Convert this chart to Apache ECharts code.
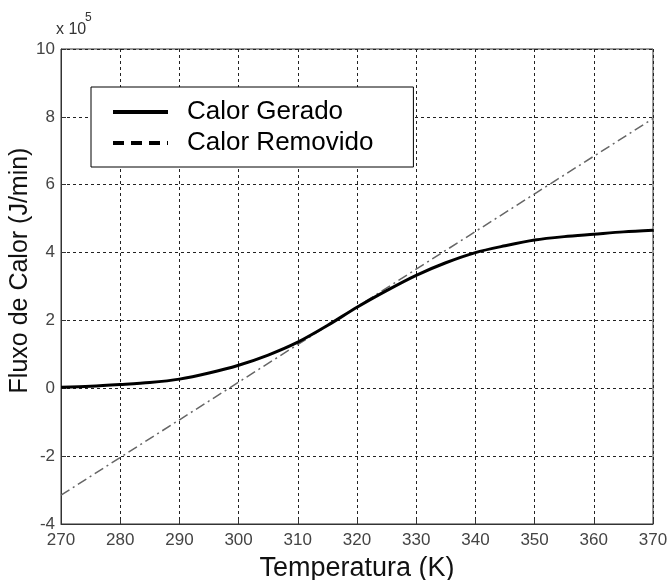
<!DOCTYPE html>
<html>
<head>
<meta charset="utf-8">
<script src="https://cdn.jsdelivr.net/npm/echarts@6/dist/echarts.min.js"></script>
<style>html,body{margin:0;padding:0;background:#fff;}#c{width:667px;height:580px;}</style>
</head>
<body>
<div id="c"></div>
<script>
var temps = [270,275,280,285,290,295,300,305,310,315,320,325,330,335,340,345,350,355,360,365,370];
var calorGerado = [0.03,0.06,0.11,0.17,0.27,0.45,0.68,0.98,1.36,1.85,2.39,2.88,3.33,3.70,4.00,4.20,4.37,4.47,4.54,4.61,4.66];
var removidoT = [270,370];
var calorRemovido = [-3.15,7.95];
var seriesNames = ['Calor Gerado','Calor Removido'];
var xTitle = 'Temperatura (K)';
var yTitle = 'Fluxo de Calor (J/min)';

function pairs(xs, ys){ return xs.map(function(x,i){ return [x, ys[i]]; }); }

var font = 'Liberation Sans, Arial, sans-serif';
var chart = echarts.init(document.getElementById('c'), null, {renderer:'canvas'});
chart.setOption({
  animation:false,
  backgroundColor:'#fff',
  grid:{left:61,right:14,top:49,bottom:56,show:true,borderColor:'#333',borderWidth:1,backgroundColor:'transparent',
    containLabel:false,outerBoundsMode:'none'},
  xAxis:{type:'value',min:270,max:370,interval:10,
    name:xTitle,nameLocation:'middle',nameGap:31,
    nameTextStyle:{fontFamily:font,fontSize:27,color:'#111'},
    axisLine:{onZero:false,lineStyle:{color:'#333',width:1}},
    axisTick:{inside:true,length:5,lineStyle:{color:'#333'}},
    axisLabel:{fontFamily:font,fontSize:17,color:'#444',margin:8},
    splitLine:{show:true,lineStyle:{color:'#222',width:1,type:[3,3]}}
  },
  yAxis:{type:'value',min:-4,max:10,interval:2,
    name:yTitle,nameLocation:'middle',nameGap:28,nameMoveOverlap:false,
    nameTextStyle:{fontFamily:font,fontSize:25,color:'#111',padding:[0,0,0,32]},
    axisLine:{show:true,onZero:false,lineStyle:{color:'#333',width:1}},
    axisTick:{show:true,inside:true,length:5,lineStyle:{color:'#333'}},
    axisLabel:{fontFamily:font,fontSize:17,color:'#444',margin:6},
    splitLine:{show:true,lineStyle:{color:'#222',width:1,type:[3,3]}}
  },
  legend:{
    orient:'vertical',left:91,top:87,
    padding:[12,40,11,20],itemGap:5,itemWidth:55,itemHeight:14,
    borderColor:'#000',borderWidth:1,backgroundColor:'#fff',
    textStyle:{fontFamily:font,fontSize:26,color:'#000',padding:[0,0,0,14]},
    data:[
      {name:seriesNames[0],itemStyle:{opacity:0},lineStyle:{color:'#000',width:4,type:'solid'}},
      {name:seriesNames[1],itemStyle:{opacity:0},lineStyle:{color:'#000',width:4,type:[11,7]}}
    ]
  },
  graphic:[
    {type:'text',left:56,top:22,style:{text:'x 10',fontFamily:font,fontSize:16,fill:'#333'}},
    {type:'text',left:85,top:12,style:{text:'5',fontFamily:font,fontSize:12,fill:'#333'}}
  ],
  series:[
    {name:seriesNames[0],type:'line',data:pairs(temps,calorGerado),smooth:0.3,showSymbol:false,symbol:'none',
      lineStyle:{color:'#000',width:3},z:3},
    {name:seriesNames[1],type:'line',data:pairs(removidoT,calorRemovido),showSymbol:false,symbol:'none',
      lineStyle:{color:'#666',width:1.5,type:[10,4,2,4]},z:2}
  ]
});
</script>
</body>
</html>
